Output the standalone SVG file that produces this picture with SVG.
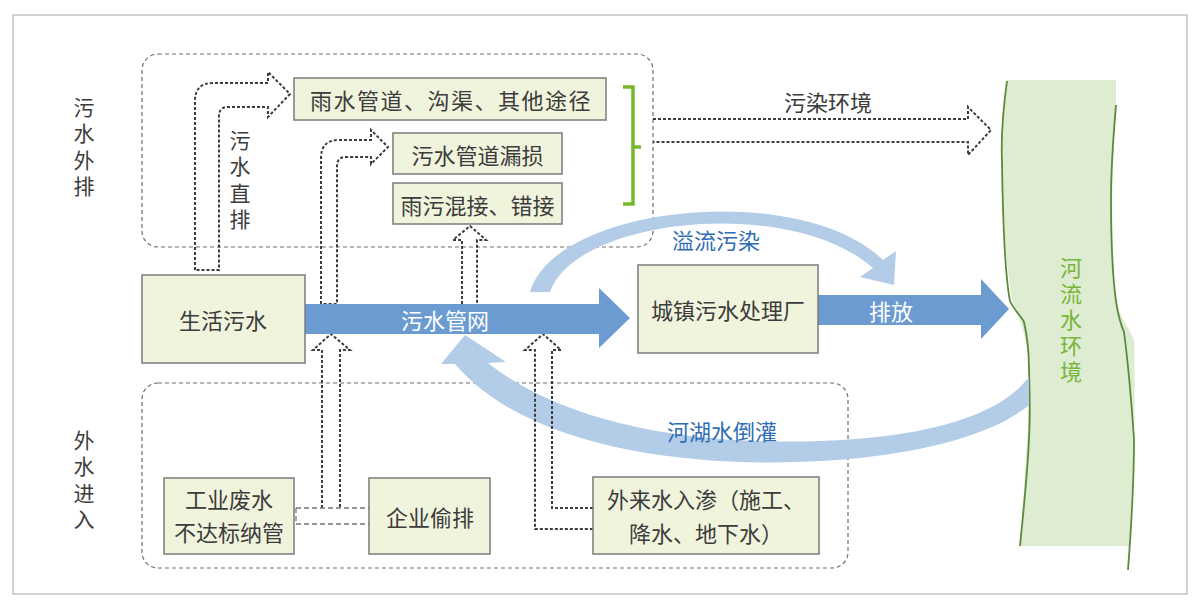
<svg xmlns="http://www.w3.org/2000/svg" width="1200" height="609" viewBox="0 0 1200 609">
<style>
.box{fill:#f1f4dc;stroke:#7b7b7b;stroke-width:1.5}
.t{font-family:"Noto Sans CJK SC","Noto Sans",sans-serif;font-size:22px;fill:#3c3c3c;text-anchor:middle;dominant-baseline:central}
.v{font-family:"Noto Sans CJK SC","Noto Sans",sans-serif;font-size:21px;fill:#3c3c3c;text-anchor:middle;writing-mode:vertical-rl;letter-spacing:5.5px}
.w{fill:#ffffff}
.b{fill:#2f6db5}
.g{fill:#78b53a}
.region{fill:none;stroke:#6f6f6f;stroke-width:1.2;stroke-dasharray:4 3}
.dot{fill:none;stroke:#3d3d3d;stroke-width:2;stroke-dasharray:3 2}
.pipe{fill:none;stroke:#777;stroke-width:1.3;stroke-dasharray:5 3}
.flow{fill:#6b9bd1}
.arc{fill:#b3cce7}
.riverline{fill:none;stroke:#5b8a3c;stroke-width:1.8}
</style>
<rect x="0" y="0" width="1200" height="609" fill="#ffffff"/>
<rect x="13" y="15" width="1174" height="579" fill="none" stroke="#c4c4c4" stroke-width="1.5"/>

<g id="river">
  <path d="M1007,80 L1116,80 L1116,105 C1112,160 1110,250 1116,301 C1120,318 1128,325 1134,340 C1136,400 1133,480 1129,546 L1020,546 C1024,480 1030,420 1029,370 C1028,345 1024,330 1016,312 C1010,300 1004,250 1002,163 C1002,130 1004,100 1007,80 Z" fill="#deedd2"/>
  <path class="riverline" d="M1007,81 C1003,110 1001,140 1002,163 C1003,230 1006,280 1010,301 C1014,310 1021,316 1024,322 C1027,335 1029,350 1029,370 C1030,400 1030,420 1029,439 C1027,480 1023,515 1020,546"/>
  <path class="riverline" d="M1116,105 C1113,140 1111,170 1111,198 C1111,240 1113,280 1116,301 C1118,315 1121,325 1124,332 C1129,370 1132,410 1134,439 C1134,490 1131,530 1128,570"/>
  <text class="v g" x="1071" y="322" style="font-size:22px;letter-spacing:4px">河流水环境</text>
</g>

<g id="region-top">
  <rect class="region" x="142" y="54" width="511" height="193" rx="16"/>
  <text class="v" x="84" y="149.5">污水外排</text>
</g>
<g id="region-bottom">
  <rect class="region" x="142" y="383" width="706" height="185" rx="16"/>
  <text class="v" x="84" y="482.5">外水进入</text>
</g>

<g id="arcs">
  <path class="arc" d="M530,292 C555,205 800,180 883,260 L896,251 L894,285 L860,277 L873,268 C790,195 575,218 550,292 Z"/>
  <path class="arc" d="M1029,377 C1000,415 930,437 820,441 C680,446 560,420 488,363 L506,362 L465,335 L441,364 L455,364 C530,452 700,468 820,461 C930,455 1000,430 1029,405 Z"/>
</g>

<g id="connectors">
  <path class="dot" d="M195,270 L195,101 Q195,83 213,83 L268,83 L268,72 L290,94 L268,117 L268,107 L228,107 Q219,107 219,116 L219,270 Z"/>
  <path class="dot" d="M321,304 L321,158 Q321,140 339,140 L371,140 L371,130 L388,147 L371,164 L371,157 L346,157 Q337,157 337,166 L337,304 Z"/>
  <path class="dot" d="M462,304 L462,240 L453,240 L470,226 L486,240 L477,240 L477,304"/>
  <path class="dot" d="M322,508 L322,350 L313,350 L331,334 L350,350 L340,350 L340,508"/>
  <path class="dot" d="M593,508 L552,508 L552,350 L561,350 L543,334 L525,350 L535,350 L535,529 L593,529"/>
  <path class="pipe" d="M296,508 L369,508 M296,524 L369,524 M296,508 L296,524"/>
  <path class="dot" d="M653,119 L968,119 L968,107 L991,130 L968,155 L968,142 L653,142"/>
  <path d="M623,87 L633,87 L633,204 L623,204 M633,147 L641,147" fill="none" stroke="#76b82a" stroke-width="3.5"/>
  <path class="flow" d="M305,304 L599,304 L599,288 L630,318 L599,348 L599,334 L305,334 Z"/>
  <path class="flow" d="M818,295 L981,295 L981,279 L1009,309 L981,339 L981,325 L818,325 Z"/>
  <text class="t w" x="445" y="319">污水管网</text>
  <text class="t w" x="891" y="310">排放</text>
  <text class="t" x="828" y="101" fill="#555">污染环境</text>
  <text class="t b" x="716" y="239">溢流污染</text>
  <text class="t b" x="722" y="430">河湖水倒灌</text>
  <text class="v" x="240" y="182.5">污水直排</text>
</g>

<g id="node-rain">
  <rect class="box" x="294" y="78" width="312" height="42"/>
  <text class="t" x="451" y="99" style="letter-spacing:1.5px">雨水管道、沟渠、其他途径</text>
</g>
<g id="node-leak">
  <rect class="box" x="393" y="133" width="169" height="41"/>
  <text class="t" x="477.5" y="154">污水管道漏损</text>
</g>
<g id="node-mix">
  <rect class="box" x="393" y="183" width="169" height="41"/>
  <text class="t" x="477.5" y="204">雨污混接、错接</text>
</g>
<g id="node-domestic">
  <rect class="box" x="142" y="275" width="163" height="88"/>
  <text class="t" x="223" y="319">生活污水</text>
</g>
<g id="node-plant">
  <rect class="box" x="638" y="265" width="180" height="88"/>
  <text class="t" x="728" y="309">城镇污水处理厂</text>
</g>
<g id="node-industry">
  <rect class="box" x="164" y="478" width="130" height="76"/>
  <text class="t" x="229" y="498">工业废水</text>
  <text class="t" x="229" y="531">不达标纳管</text>
</g>
<g id="node-enterprise">
  <rect class="box" x="369" y="478" width="121" height="76"/>
  <text class="t" x="430" y="516">企业偷排</text>
</g>
<g id="node-external">
  <rect class="box" x="593" y="477" width="226" height="77"/>
  <text class="t" x="706" y="498">外来水入渗（施工、</text>
  <text class="t" x="706" y="532">降水、地下水）</text>
</g>
</svg>
